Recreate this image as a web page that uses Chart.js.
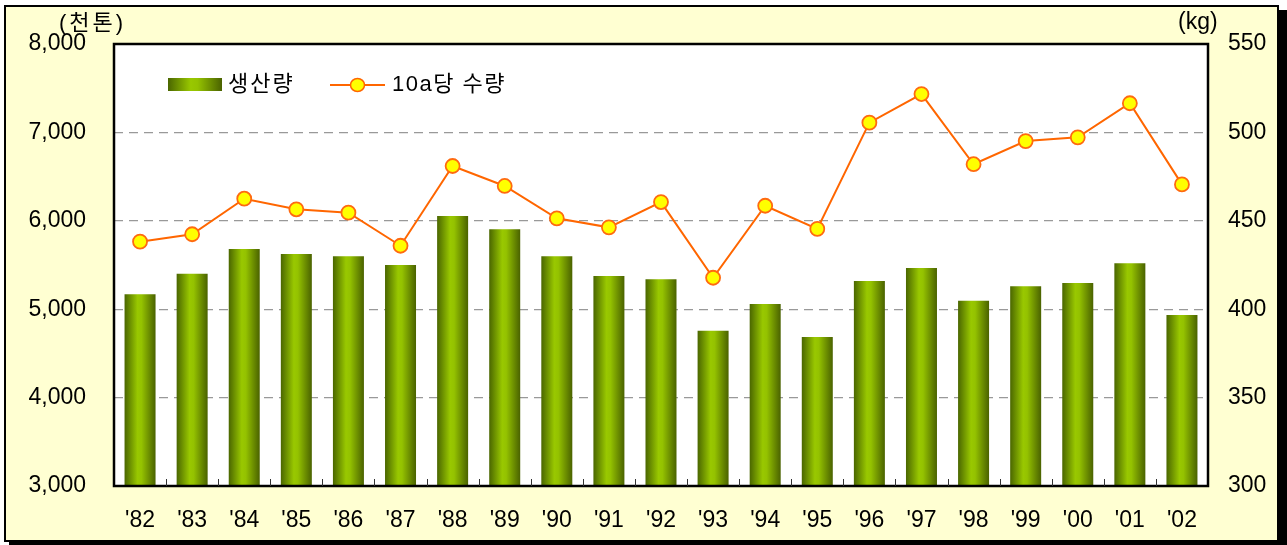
<!DOCTYPE html>
<html>
<head>
<meta charset="utf-8">
<script src="https://cdn.jsdelivr.net/npm/chart.js@4"></script>
<style>
html,body{margin:0;padding:0;background:#fff;}
#wrap{position:relative;width:1287px;height:545px;}
canvas{display:block;}
</style>
</head>
<body>
<div id="wrap"><canvas id="c" width="1287" height="545"></canvas></div>
<script>
const categories = ["'82","'83","'84","'85","'86","'87","'88","'89","'90","'91","'92","'93","'94","'95","'96","'97","'98","'99","'00","'01","'02"];
const production = [5170,5400,5680,5625,5600,5500,6055,5905,5600,5375,5340,4755,5060,4685,5320,5465,5095,5260,5295,5520,4935];
const yieldPer10a = [438.2,442.4,462.5,456.5,454.6,435.9,481,469.7,451.4,446.3,460.6,417.8,458.5,445.4,505.5,521.7,482,495.1,497.2,516.5,470.6];
const leftTicks = [3000,4000,5000,6000,7000,8000];
const rightTicks = [300,350,400,450,500,550];
const seriesNames = ['생산량','10a당 수량'];
const unitLeft = '(천톤)';
const unitRight = '(kg)';

const LATIN = '"Liberation Sans", Arial, sans-serif';
const KFONT = '"Liberation Sans", "Noto Sans CJK KR", sans-serif';

function barGradient(c, x0, x1){
  const g = c.createLinearGradient(x0,0,x1,0);
  g.addColorStop(0,'#4a6600');
  g.addColorStop(0.42,'#99c800');
  g.addColorStop(0.55,'#94c200');
  g.addColorStop(1,'#4a6200');
  return g;
}

const framePlugin = {
  id:'frame',
  beforeDraw(chart){
    const c = chart.ctx, a = chart.chartArea;
    c.save();
    c.fillStyle = '#ffffd2';
    c.fillRect(5,6,1273,535);
    c.fillStyle = '#000';
    c.fillRect(1279,10,8,535);
    c.fillRect(9,540,1278,5);
    c.strokeStyle = '#000';
    c.lineWidth = 2;
    c.strokeRect(5,6,1273,535);
    c.fillStyle = '#ffffff';
    c.fillRect(a.left,a.top,a.right-a.left,a.bottom-a.top);
    c.restore();
  },
  afterDraw(chart){
    const c = chart.ctx, a = chart.chartArea, xs = chart.scales.x;
    c.save();
    c.strokeStyle = '#000';
    c.lineWidth = 2.5;
    c.strokeRect(a.left,a.top,a.right-a.left,a.bottom-a.top);
    c.lineWidth = 1;
    c.strokeStyle = '#333';
    const n = categories.length;
    for(let i=0;i<n-1;i++){
      const x = Math.round((xs.getPixelForValue(i)+xs.getPixelForValue(i+1))/2)+0.5;
      c.beginPath(); c.moveTo(x,a.bottom); c.lineTo(x,a.bottom-7); c.stroke();
    }
    c.fillStyle = '#000';
    c.textBaseline = 'middle';
    c.textAlign = 'left';
    c.font = '22px ' + KFONT;
    c.letterSpacing = '3px';
    c.fillText(unitLeft, 59, 24);
    c.letterSpacing = '0px';
    c.font = '23px ' + LATIN;
    c.fillText(unitRight, 1178, 23);
    const g = barGradient(c,168,222);
    c.fillStyle = g;
    c.fillRect(168,78,54,13);
    c.fillStyle = '#000';
    c.font = '22px ' + KFONT;
    c.letterSpacing = '2px';
    c.fillText(seriesNames[0], 228, 85);
    c.letterSpacing = '1.5px';
    c.fillText(seriesNames[1], 392, 85);
    c.letterSpacing = '0px';
    c.strokeStyle = '#ff6600';
    c.lineWidth = 2;
    c.beginPath(); c.moveTo(330,85); c.lineTo(385,85); c.stroke();
    c.beginPath(); c.ellipse(357.5,85,7,6.5,0,0,Math.PI*2);
    c.fillStyle = '#ffff00'; c.fill();
    c.lineWidth = 1.5; c.stroke();
    c.restore();
  }
};

const chart = new Chart(document.getElementById('c'), {
  data:{
    labels: categories,
    datasets:[
      {
        type:'line',
        label: seriesNames[1],
        data: yieldPer10a,
        yAxisID:'y1',
        borderColor:'#ff6600',
        borderWidth:2,
        pointRadius:7,
        pointHoverRadius:7,
        pointBackgroundColor:'#ffff00',
        pointBorderColor:'#ff6a10',
        pointBorderWidth:1.8,
        tension:0,
        order:0
      },
      {
        type:'bar',
        label: seriesNames[0],
        data: production,
        yAxisID:'y',
        categoryPercentage:1,
        barPercentage:0.595,
        borderWidth:0,
        backgroundColor(ctx){
          const chart = ctx.chart;
          if(!chart.chartArea || !chart.scales.x) return '#88b400';
          const xs = chart.scales.x;
          const cw = (chart.chartArea.right-chart.chartArea.left)/categories.length;
          const cx = xs.getPixelForValue(ctx.dataIndex);
          const w = cw*0.595;
          return barGradient(chart.ctx, cx-w/2, cx+w/2);
        },
        order:1
      }
    ]
  },
  options:{
    responsive:false,
    animation:false,
    events:[],
    layout:{padding:{top:44,left:0,right:0,bottom:0}},
    plugins:{legend:{display:false},tooltip:{enabled:false}},
    scales:{
      x:{
        type:'category',
        offset:true,
        grid:{display:false,drawTicks:false},
        border:{display:false},
        ticks:{color:'#000',font:{family:LATIN,size:23},padding:21,maxRotation:0,autoSkip:false},
        afterFit(s){ s.height = 59; }
      },
      y:{
        position:'left',
        min:3000,max:8000,
        afterBuildTicks(s){ s.ticks = leftTicks.map(v=>({value:v})); },
        grid:{
          drawTicks:false,
          color(ctx){ const v = ctx.tick && ctx.tick.value; return (v===3000||v===8000)?'rgba(0,0,0,0)':'#999999'; },
          lineWidth:1.2
        },
        border:{display:false, dash:[9,6]},
        ticks:{color:'#000',font:{family:LATIN,size:23},padding:28,callback:v=>v.toLocaleString('en-US')},
        afterFit(s){ s.width = 114; }
      },
      y1:{
        position:'right',
        min:300,max:550,
        afterBuildTicks(s){ s.ticks = rightTicks.map(v=>({value:v})); },
        grid:{display:false,drawTicks:false},
        border:{display:false},
        ticks:{color:'#000',font:{family:LATIN,size:23},padding:20},
        afterFit(s){ s.width = 79; }
      }
    }
  },
  plugins:[framePlugin]
});
</script>
</body>
</html>
